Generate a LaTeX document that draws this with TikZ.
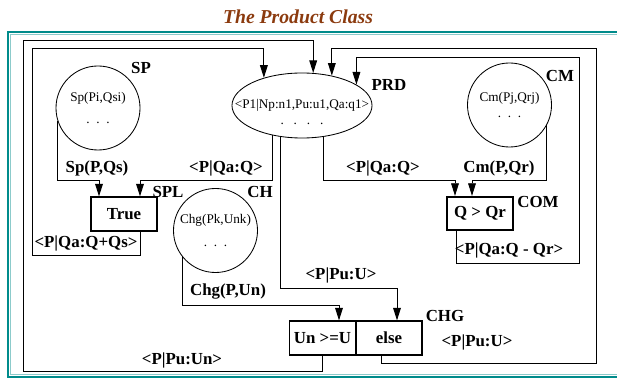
\documentclass[tikz,border=0pt]{standalone}
\usepackage{fontspec}
\setmainfont{Liberation Serif}
\usetikzlibrary{arrows.meta,shapes.geometric}
\definecolor{frameteal}{RGB}{0,139,139}
\definecolor{titlebrown}{RGB}{139,58,14}
\newcommand\labfont{\fontsize{12}{14}\selectfont\bfseries}
\newcommand\smallfont{\fontsize{9.4}{11}\selectfont}

\begin{document}
\begin{tikzpicture}[
    x=0.025cm,y=-0.025cm,
    proc/.style={circle,draw=black,line width=0.6pt,inner sep=0pt,
                 minimum size=2.1cm,align=center,font=\smallfont},
    store/.style={ellipse,draw=black,line width=0.6pt,inner sep=0pt,
                  minimum width=3.5cm,minimum height=1.625cm},
    test/.style={draw=black,line width=1.4pt,inner sep=0pt,
                 minimum width=1.65cm,minimum height=0.83cm,font=\labfont},
    note/.style={font=\labfont,inner sep=0pt},
    small/.style={font=\smallfont,inner sep=0pt,align=center},
    flow/.style={-{Triangle[length=9pt,width=5.5pt]},line width=0.7pt,draw=black}
  ]
    \useasboundingbox (0,0) rectangle (617,379);

    % frame and title
    \draw[frameteal,line width=2pt] (640,32) -- (8,32) -- (8,377) -- (640,377);
    \draw[frameteal!45,line width=0.7pt] (640,34.5) -- (10.5,34.5) -- (10.5,374.5) -- (640,374.5);
    \node[font=\fontsize{14}{16}\selectfont\bfseries\itshape,text=titlebrown]
      (title) at (298,17) {The Product Class};

    % places
    \node[proc] (sp) at (98,108) {Sp(Pi,Qsi)\\[4pt].~~.~~.};
    \node[proc] (cm) at (509.5,105) {Cm(Pj,Qrj)\\[1pt].~~.~~.};
    \node[proc] (ch) at (215.5,230.5) {Chg(Pk,Unk)\\[6pt].~~.~~.};
    \node[store] (prd) at (302,105.5) {};
    \node[small] (prdtext) at (302,112) {<P1|Np:n1,Pu:u1,Qa:q1>\\[1pt].~~~.~~~.~~~.};

    % transitions
    \node[test] (spl) at (124,214) {True};
    \node[test] (com) at (480,213.5) {Q > Qr};
    \node[test] (chg1) at (322.5,338) {Un >=U};
    \node[test,minimum width=1.65cm] (chg2) at (389,338) {else};

    % names
    \node[note] (spname) at (141,68) {SP};
    \node[note] (prdname) at (389,85) {PRD};
    \node[note] (cmname) at (560,76) {CM};
    \node[note] (splname) at (168,192) {SPL};
    \node[note] (chname) at (260,192) {CH};
    \node[note] (comname) at (538,202) {COM};
    \node[note] (chgname) at (445,316) {CHG};

    % arcs
    \draw[flow] (sp.198) |- (99,180) -- (spl.north -| 99,0);
    \draw[flow] (prd.225.6) |- (140,180) -- (spl.north -| 140,0);
    \draw[flow] (prd.304.1) |- (455,180) -- (com.north -| 455,0);
    \draw[flow] (cm.332) |- (472,180) -- (com.north -| 472,0);
    \draw[flow] (prd.235.9) |- (397,288) -- (chg2.north -| 397,0);
    \draw[flow] (ch.219) |- (339,305) -- (chg1.north -| 339,0);

    \draw[flow] (spl.south -| 140,0) |- (32,255) -- (32,48) -| (prd.144.3);
    \draw[flow] (chg1.south) |- (23,371) -- (23,40) -| (prd.71.1);
    \draw[flow] (chg2.south -| 381,0) |- (596,363) -- (596,48) -| (prd.45.6);
    \draw[flow] (com.south -| 456,0) |- (579,263) -- (579,57) -| (prd.21);

    % arc labels
    \node[note] (l1) at (97,168) {Sp(P,Qs)};
    \node[note] (l2) at (226,168) {<P|Qa:Q>};
    \node[note] (l3) at (383,168) {<P|Qa:Q>};
    \node[note] (l4) at (499,168) {Cm(P,Qr)};
    \node[note] (l5) at (86,243) {<P|Qa:Q+Qs>};
    \node[note] (l6) at (509,250) {<P|Qa:Q - Qr>};
    \node[note] (l7) at (341,275) {<P|Pu:U>};
    \node[note] (l8) at (228,292) {Chg(P,Un)};
    \node[note] (l9) at (477,342) {<P|Pu:U>};
    \node[note] (l10) at (182,360) {<P|Pu:Un>};
  \end{tikzpicture}
\end{document}
